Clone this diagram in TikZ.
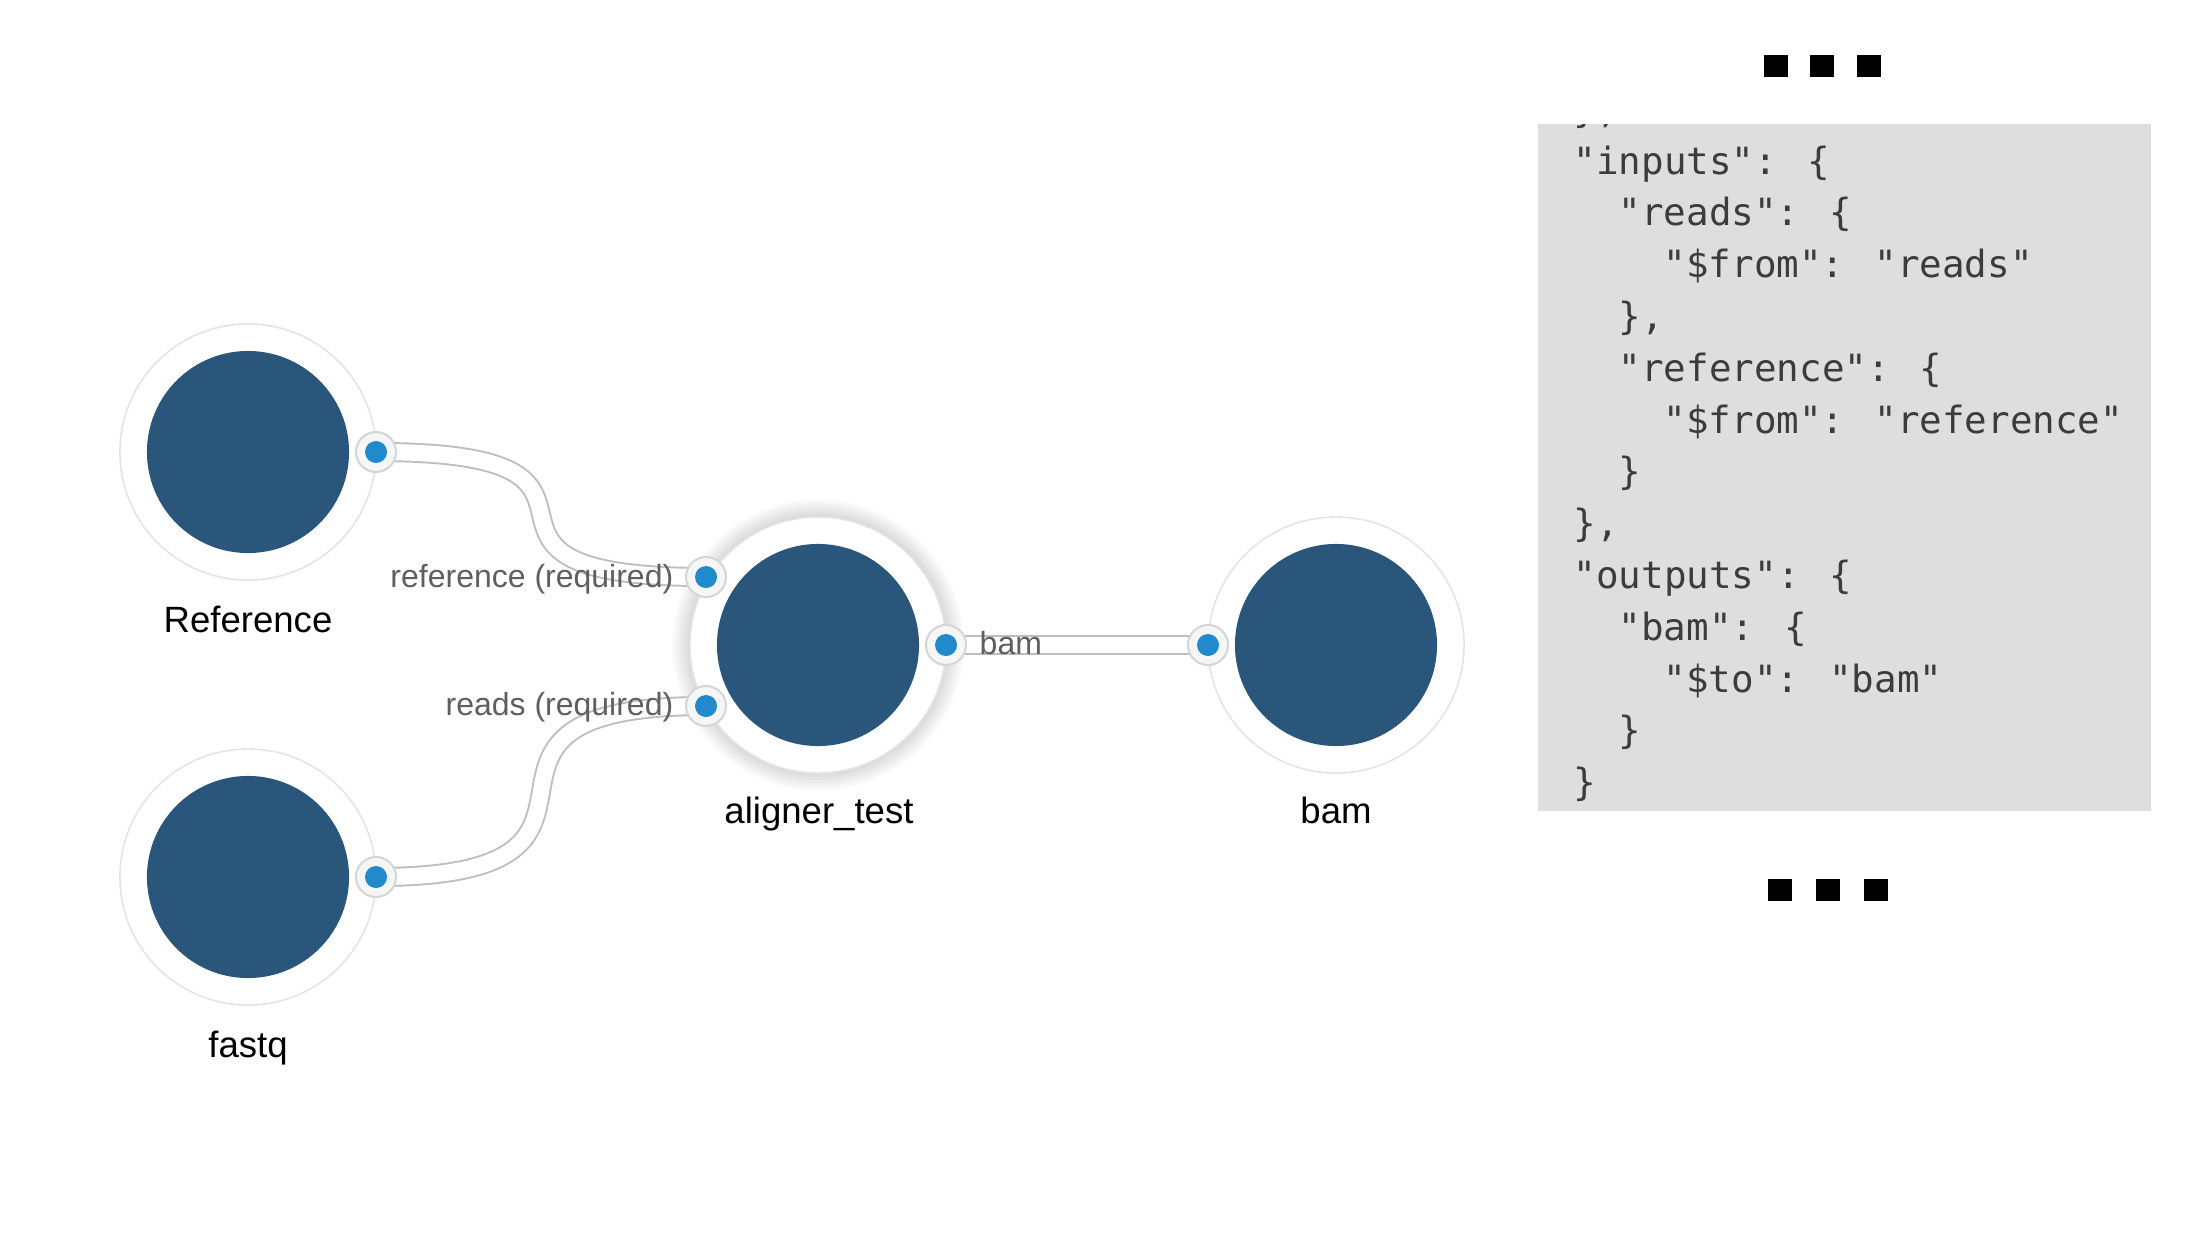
\documentclass[tikz,border=0pt]{standalone}
\usepackage{fontspec}
\setmainfont{Liberation Sans}
\newfontfamily\codefont{DejaVu Sans Mono}
\newcommand{\dq}{\symbol{34}}
\definecolor{corecol}{RGB}{41,86,122}
\definecolor{ringcol}{RGB}{228,228,228}
\definecolor{portblue}{RGB}{33,138,204}
\definecolor{portring}{RGB}{214,214,214}
\definecolor{portbg}{RGB}{246,246,246}
\definecolor{tubegray}{RGB}{190,190,190}
\definecolor{plblcol}{RGB}{95,95,95}
\definecolor{codebg}{RGB}{222,222,222}
\definecolor{codetext}{RGB}{60,60,60}
\begin{document}
\begin{tikzpicture}[x=0.01cm,y=-0.01cm,
  outerring/.style={circle, draw=ringcol, line width=0.45pt, fill=white, minimum size=2.56cm, inner sep=0},
  core/.style={circle, fill=corecol, minimum size=2.02cm, inner sep=0},
  port/.style={circle, draw=portring, line width=0.6pt, fill=portbg, minimum size=0.4cm, inner sep=0,
    path picture={\fill[portblue] (path picture bounding box.center) circle (0.11cm);}},
  tube/.style={draw=tubegray, line width=0.55pt, double=white, double distance=4.6pt},
  lbl/.style={font=\fontsize{10.4}{12}\selectfont, text=black, inner sep=0, anchor=base},
  plbl/.style={font=\fontsize{9.1}{11}\selectfont, text=plblcol, inner sep=0},
  codeline/.style={font=\codefont\fontsize{10.67}{13}\selectfont, text=codetext, inner sep=0, anchor=base west},
  dotsq/.style={fill=black, minimum width=0.24cm, minimum height=0.22cm, inner sep=0}
]
\useasboundingbox (0,0) rectangle (2208,1254);
\fill[white] (0,0) rectangle (2208,1254);

% aligner shadow
\foreach \r in {128,130,...,146} {\fill[black, opacity=0.015] (818,645) circle (\r);}

% outer rings
\node[outerring] (refring) at (248,452) {};
\node[outerring] (fqring) at (248,877) {};
\node[outerring] (alring) at (818,645) {};
\node[outerring] (bamring) at (1336,645) {};

% cores
\node[core] (ref) at (248,452) {};
\node[core] (fq) at (248,877) {};
\node[core] (al) at (818,645) {};
\node[core] (bamc) at (1336,645) {};

% port coordinates
\coordinate (refoutc) at (376,452);
\coordinate (fqoutc) at (376,877);
\coordinate (alrefc) at (706,577);
\coordinate (alreadsc) at (706,706);
\coordinate (aloutc) at (946,645);
\coordinate (baminc) at (1208,645);

% tubes
\draw[tube] (refoutc) .. controls +(300,0) and +(-300,0) .. (alrefc);
\draw[tube] (fqoutc) .. controls +(300,0) and +(-300,0) .. (alreadsc);
\draw[tube] (aloutc) -- (baminc);

% port labels
\node[plbl, anchor=base east] (lblref) at (674,587) {reference (required)};
\node[plbl, anchor=base east] (lblreads) at (674,715) {reads (required)};
\node[plbl, anchor=base west] (lblbam) at (979,654) {bam};

% ports
\node[port] (refout) at (refoutc) {};
\node[port] (fqout) at (fqoutc) {};
\node[port] (alref) at (alrefc) {};
\node[port] (alreads) at (alreadsc) {};
\node[port] (alout) at (aloutc) {};
\node[port] (bamin) at (baminc) {};

% node labels
\node[lbl] (tref) at (248,632) {Reference};
\node[lbl] (tfq) at (248,1057) {fastq};
\node[lbl] (tal) at (819,823) {aligner\_test};
\node[lbl] (tbam) at (1336,823) {bam};

% code panel
\fill[codebg] (1538,124) rectangle (2151,811);
\begin{scope}
\clip (1538,124) rectangle (2151,811);
\node[codeline] (c0) at (1573,122.2) {\},};
\end{scope}
\node[codeline] (c1) at (1573,174) {\dq inputs\dq: \{};
\node[codeline] (c2) at (1618,225.8) {\dq reads\dq: \{};
\node[codeline] (c3) at (1663,277.6) {\dq\$from\dq: \dq reads\dq};
\node[codeline] (c4) at (1618,329.4) {\},};
\node[codeline] (c5) at (1618,381.2) {\dq reference\dq: \{};
\node[codeline] (c6) at (1663,433) {\dq\$from\dq: \dq reference\dq};
\node[codeline] (c7) at (1618,484.8) {\}};
\node[codeline] (c8) at (1573,536.6) {\},};
\node[codeline] (c9) at (1573,588.4) {\dq outputs\dq: \{};
\node[codeline] (c10) at (1618,640.2) {\dq bam\dq: \{};
\node[codeline] (c11) at (1663,692) {\dq\$to\dq: \dq bam\dq};
\node[codeline] (c12) at (1618,743.8) {\}};
\node[codeline] (c13) at (1573,795.6) {\}};

% ellipsis squares
\node[dotsq] (d1) at (1776,66) {};
\node[dotsq] (d2) at (1822,66) {};
\node[dotsq] (d3) at (1869,66) {};
\node[dotsq] (d4) at (1780,890) {};
\node[dotsq] (d5) at (1828,890) {};
\node[dotsq] (d6) at (1876,890) {};
\end{tikzpicture}
\end{document}
